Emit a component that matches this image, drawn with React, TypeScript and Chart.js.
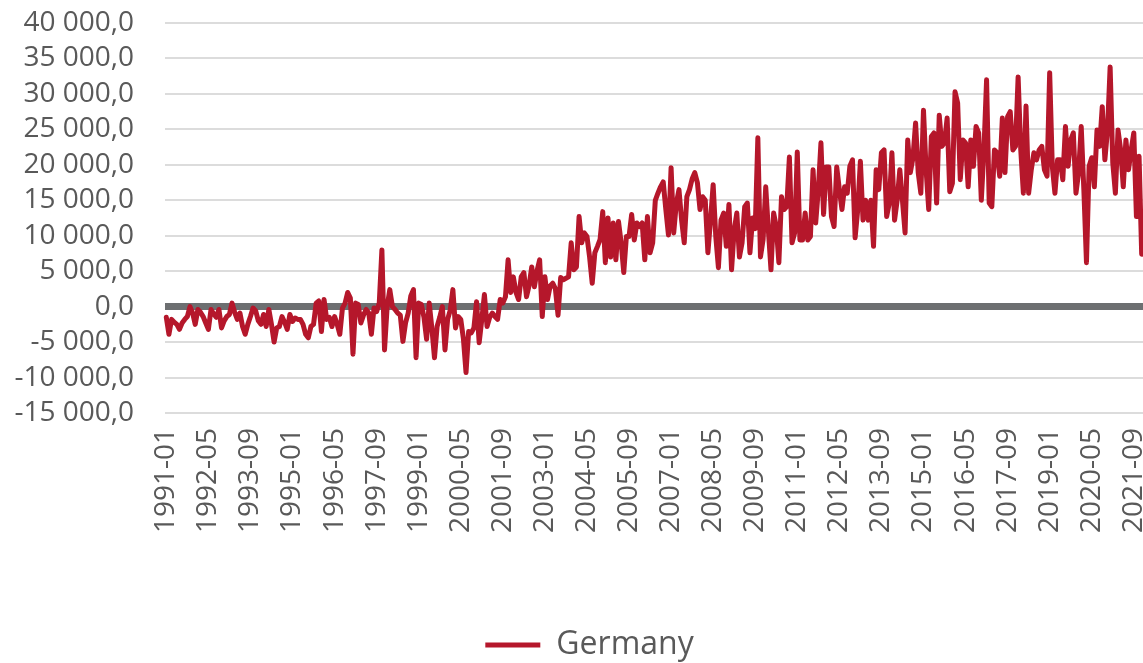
import React, { useEffect, useRef } from 'react';
import { Chart, registerables } from 'chart.js';

Chart.register(...registerables);

// Category axis: monthly, 1991-01 .. 2021-12
const years = [1991, 1992, 1993, 1994, 1995, 1996, 1997, 1998, 1999, 2000, 2001, 2002, 2003, 2004, 2005, 2006, 2007, 2008, 2009, 2010, 2011, 2012, 2013, 2014, 2015, 2016, 2017, 2018, 2019, 2020, 2021];
const monthCodes = ['01', '02', '03', '04', '05', '06', '07', '08', '09', '10', '11', '12'];
const labelEvery = 16;

// Series values (Germany), one array per year
const v1991 = [-1500, -3900, -1800, -2200, -2500, -3200, -2300, -1800, -1400, 0, -900, -2500];
const v1992 = [-400, -800, -1400, -2300, -3200, -400, -1000, -1500, -400, -3000, -2000, -1400];
const v1993 = [-1100, 500, -800, -1800, -900, -2800, -3900, -2500, -1400, -200, -600, -2000];
const v1994 = [-2500, -1100, -2800, -400, -2500, -5000, -3000, -2800, -1400, -2200, -3200, -1100];
const v1995 = [-2100, -1600, -1800, -1800, -2500, -3900, -4400, -2800, -2500, 500, 800, -3500];
const v1996 = [1000, -1800, -1500, -2800, -1400, -2500, -3900, -200, 500, 2000, 1200, -6700];
const v1997 = [500, 300, -2300, -1200, -400, -900, -3900, -200, -700, 500, 8000, -6100];
const v1998 = [0, 2400, 0, -400, -900, -1200, -4900, -2300, -900, 1500, 2400, -7200];
const v1999 = [500, 300, -1500, -4600, 500, -3000, -7200, -2800, -1500, 0, -6100, -1800];
const v2000 = [-500, 2400, -3000, -1400, -1800, -4500, -9300, -3500, -3700, -3000, 700, -5100];
const v2001 = [-1800, 1700, -2800, -1500, -900, -1400, -1800, 1000, 500, 1400, 6600, 2000];
const v2002 = [4200, 2000, 1000, 4200, 4800, 1400, 3000, 5600, 2800, 5000, 6600, -1400];
const v2003 = [4200, 1000, 2900, 3300, 2500, -1200, 4100, 3800, 4000, 4200, 9000, 5200];
const v2004 = [5600, 12700, 9000, 10400, 9900, 7000, 3300, 7600, 8500, 9500, 13400, 6200];
const v2005 = [12500, 7000, 11800, 6600, 12000, 9000, 4800, 9900, 9900, 13000, 9400, 11800];
const v2006 = [11300, 11800, 6600, 12700, 7600, 9000, 15000, 16000, 16900, 17600, 13700, 10100];
const v2007 = [19600, 10400, 14600, 16500, 12200, 9000, 15500, 16500, 18000, 18900, 17500, 13700];
const v2008 = [15500, 15000, 7600, 12200, 17200, 9900, 5500, 12200, 13200, 8500, 14400, 5200];
const v2009 = [10800, 13200, 7000, 9000, 14100, 14600, 7600, 12500, 11000, 23800, 7000, 9500];
const v2010 = [16900, 10800, 5200, 13200, 11300, 6200, 15500, 13700, 14100, 21100, 9000, 10400];
const v2011 = [21800, 9400, 9400, 13200, 9400, 9900, 19300, 11800, 16500, 23100, 13000, 19700];
const v2012 = [19700, 12700, 11300, 19700, 16500, 13700, 16900, 16000, 19800, 20700, 9700, 13700];
const v2013 = [20500, 12200, 15000, 12200, 15000, 8500, 19300, 16500, 21700, 22100, 12700, 14600];
const v2014 = [21700, 12200, 15000, 19300, 15000, 10400, 23500, 18900, 21000, 25900, 18900, 16000];
const v2015 = [27700, 19300, 13700, 24000, 24500, 14600, 27000, 22600, 23100, 26600, 16200, 17400];
const v2016 = [30300, 28700, 17900, 23500, 23100, 16900, 23500, 19800, 25400, 24500, 15000, 22100];
const v2017 = [32000, 14600, 14100, 22100, 21700, 18400, 26600, 18900, 26800, 27500, 22100, 22600];
const v2018 = [32400, 22100, 16000, 28300, 16000, 19300, 21700, 20700, 22100, 22600, 19300, 18400];
const v2019 = [33000, 19800, 16000, 20700, 20700, 17900, 25400, 19800, 23500, 24500, 16000, 18900];
const v2020 = [25400, 16500, 6200, 19800, 21000, 16900, 24900, 22600, 28200, 20700, 24900, 33800];
const v2021 = [20300, 16000, 24900, 22100, 16900, 23500, 19300, 22100, 24500, 12700, 21200, 7400];

const germany = [
  ...v1991, ...v1992, ...v1993, ...v1994, ...v1995, ...v1996, ...v1997, ...v1998,
  ...v1999, ...v2000, ...v2001, ...v2002, ...v2003, ...v2004, ...v2005, ...v2006,
  ...v2007, ...v2008, ...v2009, ...v2010, ...v2011, ...v2012, ...v2013, ...v2014,
  ...v2015, ...v2016, ...v2017, ...v2018, ...v2019, ...v2020, ...v2021,
];

const categories = years.flatMap((y) => monthCodes.map((m) => `${y}-${m}`));

const Y_MIN = -15000;
const Y_MAX = 40000;
const Y_STEP = 5000;

const FONT = "'Open Sans', sans-serif";
const TEXT = '#595959';
const LINE = '#B5172B';

function fmt(v: number): string {
  const s = Math.abs(Math.round(v)).toString().replace(/\B(?=(\d{3})+(?!\d))/g, ' ');
  return (v < 0 ? '-' : '') + s + ',0';
}

// nudges the bottom legend box a little to the right, as in the reference
const legendShift = {
  id: 'legendShift',
  afterLayout(chart: any) {
    const l = chart.legend;
    if (l) {
      l.left += 12;
      l.right += 12;
    }
  },
};

export default function App() {
  const ref = useRef<HTMLCanvasElement>(null);
  useEffect(() => {
    if (!ref.current) return;
    const chart = new Chart(ref.current, {
      type: 'line',
      data: {
        labels: categories,
        datasets: [
          {
            label: 'Germany',
            data: germany,
            borderColor: LINE,
            backgroundColor: LINE,
            borderWidth: 5,
            pointRadius: 0,
            pointHoverRadius: 0,
            borderJoinStyle: 'round',
            borderCapStyle: 'round',
            tension: 0,
            fill: false,
          },
        ],
      },
      options: {
        responsive: false,
        animation: false,
        layout: { padding: { left: 12, top: 23, right: 0, bottom: 0 } },
        plugins: {
          legend: {
            position: 'bottom',
            labels: {
              usePointStyle: true,
              pointStyle: 'line',
              pointStyleWidth: 55,
              padding: 10,
              color: TEXT,
              font: { family: FONT, size: 32 },
            },
          },
          tooltip: { enabled: false },
        },
        scales: {
          x: {
            type: 'category',
            offset: true,
            grid: { display: false, drawTicks: false },
            border: { display: false },
            ticks: {
              autoSkip: false,
              minRotation: 90,
              maxRotation: 90,
              padding: 15,
              color: TEXT,
              font: { family: FONT, size: 28 },
              callback: (_v: any, i: number) => (i % labelEvery === 0 ? categories[i] : ''),
            },
            afterFit: (s: any) => {
              s.height = 206;
              s.paddingLeft = 0;
              s.paddingRight = 0;
            },
          },
          y: {
            min: Y_MIN,
            max: Y_MAX,
            border: { display: false },
            grid: {
              drawTicks: false,
              color: (ctx: any) => (ctx.tick && ctx.tick.value === 0 ? '#6D6F71' : '#DCDCDC'),
              lineWidth: (ctx: any) => (ctx.tick && ctx.tick.value === 0 ? 7 : 2),
            },
            ticks: {
              autoSkip: false,
              stepSize: Y_STEP,
              padding: 31,
              color: TEXT,
              font: { family: FONT, size: 28 },
              callback: (v: any) => fmt(Number(v)),
            },
            afterFit: (s: any) => {
              s.width = 153;
              s.paddingTop = 0;
              s.paddingBottom = 0;
            },
          },
        },
      },
      plugins: [legendShift],
    });
    return () => chart.destroy();
  }, []);
  return (
    <div style={{ position: 'fixed', left: 0, top: 0, width: 1143, height: 671, overflow: 'hidden', background: '#fff' }}>
      <canvas ref={ref} width={1143} height={671} style={{ display: 'block' }} />
    </div>
  );
}
